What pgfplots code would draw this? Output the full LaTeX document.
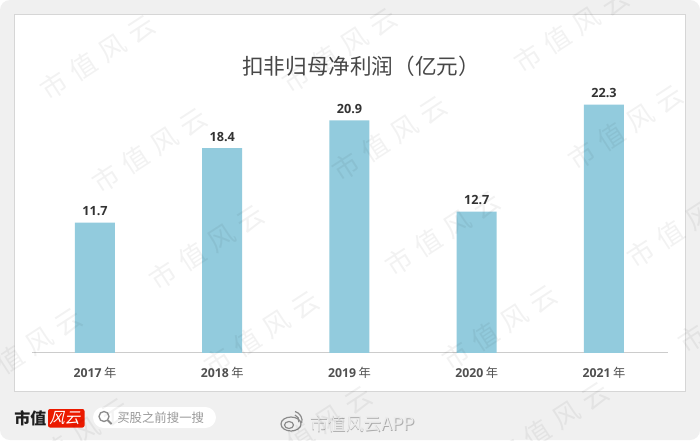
\documentclass[border=0pt]{standalone}
\usepackage{pgfplots}
\pgfplotsset{compat=1.18}
\usepackage{fontspec}
\setmainfont{Open Sans}
\newfontfamily\cjk{Noto Sans CJK SC}
\definecolor{barc}{HTML}{92CBDD}
\definecolor{bgc}{HTML}{F0F0F0}
\definecolor{lab}{HTML}{505050}
\definecolor{val}{HTML}{333333}
\newcommand{\yr}[1]{#1\hspace{2pt}{\cjk\mdseries 年}}
\begin{document}
\begin{tikzpicture}[x=0.75pt,y=-0.75pt]
\path[use as bounding box] (0,0) rectangle (700,440);
\fill[white] (0,0) rectangle (700,440);
\fill[bgc,rounded corners=7.5pt] (0,0) rectangle (700,440);
\fill[black!6] (15,15) rectangle (687,393);
\fill[white,draw=black!16,line width=0.6pt] (14,14) rectangle (685.5,391);
\begin{axis}[
  at={(24pt,-264.6pt)},anchor=south west,
  scale only axis,width=477pt,height=234.6pt,
  xmin=-0.495,xmax=4.503,ymin=0,ymax=28.12,
  axis x line=bottom,axis y line=none,
  axis line style={draw=black!20,line width=0.8pt,-},
  xtick=data,xticklabels={\yr{2017},\yr{2018},\yr{2019},\yr{2020},\yr{2021}},
  x tick style={draw=none},
  tick label style={font=\bfseries\fontsize{9.2}{11}\selectfont,text=lab},
  xticklabel style={yshift=-3pt},
  ybar,bar width=30pt,
  nodes near coords,
  nodes near coords style={font=\bfseries\fontsize{9.5}{11}\selectfont,text=val,yshift=1.5pt,/pgf/number format/assume math mode=true,/pgf/number format/fixed,/pgf/number format/precision=1,/pgf/number format/fixed zerofill},
  clip=false,
]
\addplot[fill=barc,draw=none] coordinates {(0,11.7)(1,18.4)(2,20.9)(3,12.7)(4,22.3)};
\end{axis}
\node[font=\cjk\fontsize{16.2}{17}\selectfont,text=black!72,anchor=west,inner sep=0pt] at (242,66) {扣非归母净利润（亿元）};
% footer
\node[font=\cjk\bfseries\fontsize{12}{12}\selectfont,text=black!88,anchor=west,inner sep=0pt] at (14,418) {市值};
\fill[red!78!orange!92!black,rounded corners=1.5pt] (48,409) rectangle (84.5,427.5);
\node[font=\cjk\fontsize{11.5}{12}\selectfont,text=white,inner sep=0pt,xslant=0.25] at (66,418) {风云};
\fill[white,rounded corners=8pt] (93,407) rectangle (216,428);
\draw[black!45,line width=1pt] (104,416.5) circle (5);
\draw[black!45,line width=1.4pt] (107.8,420.3) -- (111.5,424);
\node[font=\cjk\fontsize{9.3}{10}\selectfont,text=black!40,anchor=west,inner sep=0pt] at (117,417.8) {买股之前搜一搜};
\draw[black!45,line width=0.9pt] (291,424) ellipse (10 and 7);
\draw[black!45,line width=0.9pt] (289,425) ellipse (4.5 and 3.5);
\draw[black!45,line width=0.9pt] (295,415) arc (-70:15:6);
\draw[black!45,line width=0.9pt] (295,411.5) arc (-75:15:9.5);
\node[font=\cjk\fontsize{13.4}{14}\selectfont,text=black!32,anchor=west,inner sep=0pt] at (310.6,424.6) {市值风云APP};
\node[font=\cjk\fontsize{13.4}{14}\selectfont,text=white!92!black,anchor=west,inner sep=0pt] at (310,424) {市值风云APP};
% watermark
\foreach \x/\y in {98/57,150/150,207/247,262/333,315/428,340/50,390/138,443/233,500/327,552/424,572/30,626/127,685/225,736/310,25/350,72/440}{
  \node[rotate=33,text=black,opacity=0.05,font=\cjk\fontsize{20}{20}\selectfont,inner sep=0pt] at (\x,\y) {市\hspace{6pt}值\hspace{6pt}风\hspace{6pt}云};
}
\end{tikzpicture}
\end{document}
